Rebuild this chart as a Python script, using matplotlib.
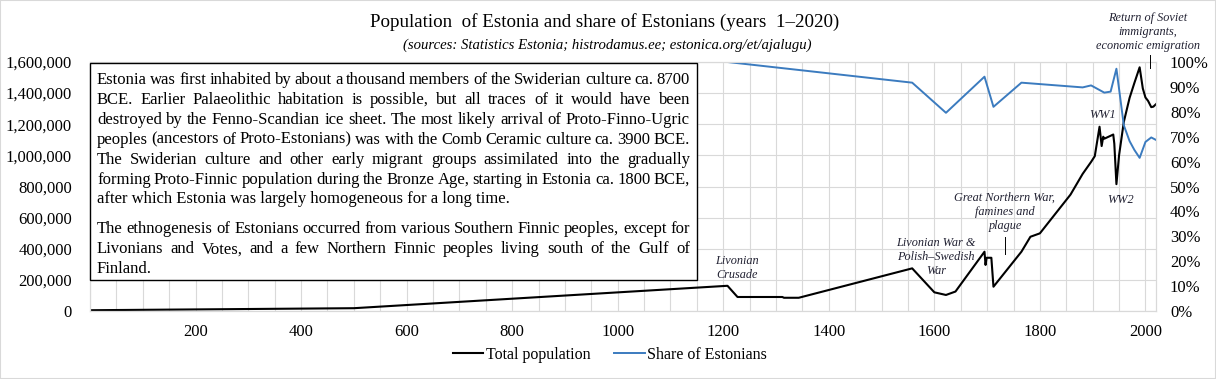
import numpy as np
import matplotlib.pyplot as plt
import matplotlib as mpl
import matplotlib.ticker as ticker
from matplotlib.patches import Rectangle
from matplotlib.lines import Line2D

mpl.rcParams['font.family'] = ['Liberation Serif', 'DejaVu Serif']

W, H = 1216, 379

# total population
pop_years = [1, 500, 1208, 1227, 1312, 1315, 1343, 1558, 1600, 1622, 1640,
             1695, 1697, 1699, 1708, 1712, 1765, 1782, 1800, 1858, 1881,
             1897, 1904, 1913, 1917, 1920, 1922, 1934, 1939, 1941, 1945,
             1950, 1959, 1970, 1979, 1989, 1995, 2000, 2005, 2011, 2015, 2020]
pop_total = [5000, 18000, 162000, 90000, 90000, 85000, 85000, 274000, 120000,
             103000, 125000, 381000, 296000, 342000, 342000, 156000, 381000,
             477000, 499000, 748000, 881000, 958000, 995000, 1184000, 1060000,
             1120000, 1107000, 1126000, 1134000, 1075000, 815000, 1000000,
             1215000, 1370000, 1465000, 1566000, 1430000, 1372000, 1350000,
             1310000, 1313000, 1329000]

# share of Estonians
share_years = [1208, 1558, 1622, 1695, 1712, 1765, 1881, 1897, 1922, 1934,
               1945, 1959, 1970, 1979, 1989, 2000, 2011, 2020]
share_est = [1.0, 0.917, 0.796, 0.941, 0.82, 0.917, 0.898, 0.906, 0.877,
             0.881, 0.973, 0.746, 0.682, 0.647, 0.615, 0.679, 0.697, 0.687]

x_ticks = np.arange(200, 2001, 200)
pop_ticks = np.arange(0, 1600001, 200000)
share_ticks = np.arange(0, 1.001, 0.1)

title = 'Population  of Estonia and share of Estonians (years  1\u20132020)'
subtitle = '(sources: Statistics Estonia; histrodamus.ee; estonica.org/et/ajalugu)'

para1 = [
    'Estonia was first inhabited by about a thousand members of the Swiderian culture ca. 8700',
    'BCE. Earlier Palaeolithic habitation is possible, but all traces of it would have been',
    'destroyed by the Fenno-Scandian ice sheet. The most likely arrival of Proto-Finno-Ugric',
    'peoples (ancestors of Proto-Estonians) was with the Comb Ceramic culture ca. 3900 BCE.',
    'The Swiderian culture and other early migrant groups assimilated into the gradually',
    'forming Proto-Finnic population during the Bronze Age, starting in Estonia ca. 1800 BCE,',
    'after which Estonia was largely homogeneous for a long time.',
]
para2 = [
    'The ethnogenesis of Estonians occurred from various Southern Finnic peoples, except for',
    'Livonians and Votes, and a few Northern Finnic peoples living south of the Gulf of',
    'Finland.',
]

BLUE = '#3b7bbf'
GRID = '#d9d9d9'
ANN = '#222233'


def fx(px):
    return px / W


def fy(py):
    return 1 - py / H


fig = plt.figure(figsize=(W / 100, H / 100), dpi=100)
ax = fig.add_axes([fx(90), fy(311), fx(1156) - fx(90), fy(62) - fy(311)])
ax2 = ax.twinx()

l1, = ax.plot(pop_years, pop_total, color='black', lw=1.5, label='Total population')
l2, = ax2.plot(share_years, share_est, color=BLUE, lw=1.4, label='Share of Estonians')

ax.set_xlim(0, 2020)
ax.set_ylim(0, 1600000)
ax2.set_ylim(0, 1)
ax.set_xticks(x_ticks)
ax.xaxis.set_minor_locator(ticker.MultipleLocator(50))
ax.set_yticks(pop_ticks)
ax2.set_yticks(share_ticks)
ax.yaxis.set_major_formatter(ticker.StrMethodFormatter('{x:,.0f}'))
ax2.yaxis.set_major_formatter(ticker.PercentFormatter(1.0, decimals=0))

ax.grid(axis='x', which='both', color=GRID, lw=0.8)
ax.grid(axis='y', color=GRID, lw=0.8)
ax.set_axisbelow(True)
for a in (ax, ax2):
    for s in a.spines.values():
        s.set_color(GRID)
        s.set_linewidth(0.8)
ax.tick_params(axis='x', which='both', length=0, labelsize=12, pad=9)
ax.tick_params(axis='y', length=0, labelsize=12, pad=13)
ax2.tick_params(axis='y', length=0, labelsize=12, pad=10)

# titles
fig.text(fx(605), fy(22), title, ha='center', va='center', size=13.7)
fig.text(fx(607), fy(45), subtitle, ha='center', va='center', size=10.6,
         style='italic')

# text box
box = Rectangle((fx(90), fy(280)), fx(697) - fx(90), fy(63) - fy(280),
                transform=fig.transFigure, fc='white', ec='black', lw=1.0,
                zorder=2)
fig.add_artist(box)

rend = fig.canvas.get_renderer()


def put_line(line, yb, x0, x1, size):
    # justified line: words spread evenly between x0 and x1
    words = line.split()
    arts = [fig.text(0, fy(yb), w, size=size, va='baseline', zorder=3)
            for w in words]
    widths = [t.get_window_extent(rend).width for t in arts]
    gap = (x1 - x0 - sum(widths)) / (len(words) - 1)
    x = x0
    for t, w in zip(arts, widths):
        t.set_x(fx(x))
        x += w + gap


def put_paragraph(lines, y0, x0=97, x1=690, size=12, step=19.9):
    for i, line in enumerate(lines):
        yb = y0 + i * step
        if i < len(lines) - 1:
            put_line(line, yb, x0, x1, size)
        else:
            fig.text(fx(x0), fy(yb), line, size=size, va='baseline', zorder=3)


put_paragraph(para1, 84)
put_paragraph(para2, 233.3)

# annotations
ann = dict(ha='center', va='center', size=8.8, style='italic', color=ANN,
           linespacing=1.2)
fig.text(fx(737), fy(268), 'Livonian\nCrusade', **ann)
fig.text(fx(936), fy(257), 'Livonian War &\nPolish\u2013Swedish\nWar', **ann)
fig.text(fx(1005), fy(212), 'Great Northern War,\nfamines and\nplague', **ann)
fig.text(fx(1103), fy(115), 'WW1', **ann)
fig.text(fx(1120), fy(200), 'WW2', **ann)
fig.text(fx(1148), fy(32), 'Return of Soviet\nimmigrants,\neconomic emigration', **ann)
fig.add_artist(Line2D([fx(1005)] * 2, [fy(237), fy(254)], color='black', lw=0.7))
fig.add_artist(Line2D([fx(1150)] * 2, [fy(55), fy(68)], color='black', lw=0.7))

fig.legend(handles=[l1, l2], loc='center', bbox_to_anchor=(fx(610), fy(355)),
           ncol=2, frameon=False, fontsize=11.5, handlelength=1.9,
           handletextpad=0.15, columnspacing=1.5)

# light frame round the chart
fig.add_artist(Rectangle((0, 0), 1, 1, transform=fig.transFigure, fill=False,
                         ec=GRID, lw=1.5, zorder=5))

fig.savefig('out.png', dpi=100)
